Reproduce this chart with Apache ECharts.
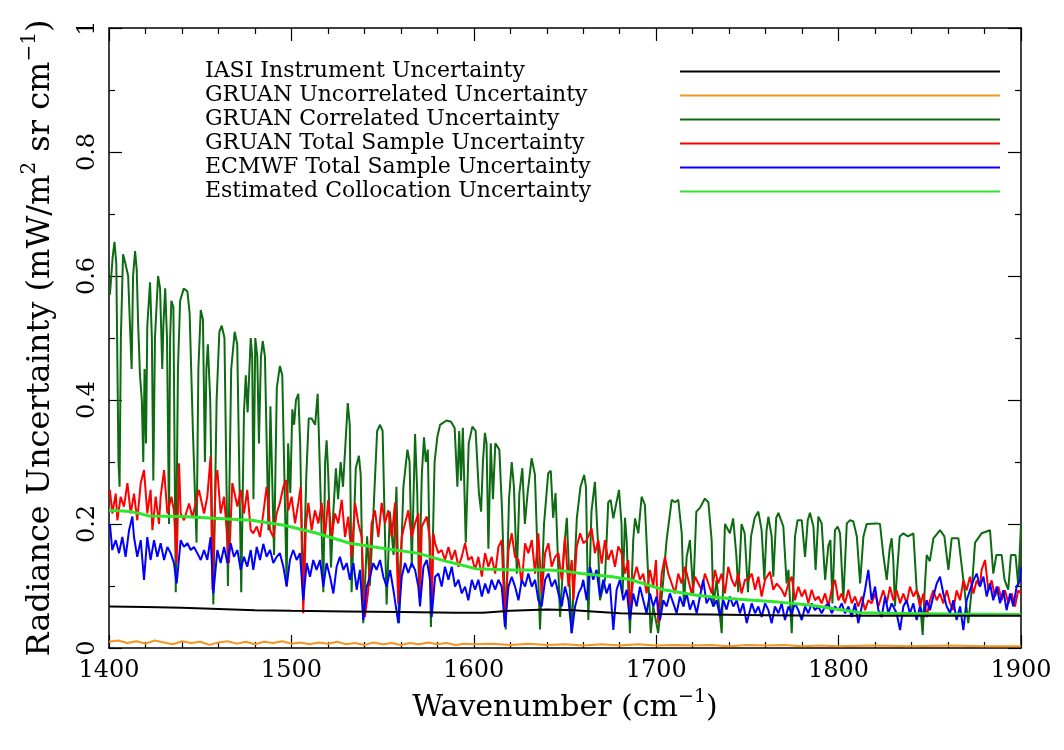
<!DOCTYPE html>
<html>
<head>
<meta charset="utf-8">
<script src="https://cdn.jsdelivr.net/npm/echarts@6/dist/echarts.min.js"></script>
<style>html,body{margin:0;padding:0;background:#fff}#chart{width:1064px;height:750px}</style>
</head>
<body>
<div id="chart"></div>
<script>
// ---- Data (wavenumber cm^-1, radiance uncertainty mW/m2 sr cm-1) ----
const seriesNames = [
  "IASI Instrument Uncertainty",
  "GRUAN Uncorrelated Uncertainty",
  "GRUAN Correlated Uncertainty",
  "GRUAN Total Sample Uncertainty",
  "ECMWF Total Sample Uncertainty",
  "Estimated Collocation Uncertainty"
];
const xTicks = [1400, 1500, 1600, 1700, 1800, 1900];
const yTicks = [0, 0.2, 0.4, 0.6, 0.8, 1];

const iasiInstrument = [[1400,0.067],[1420,0.066],[1440,0.065],[1460,0.063],[1480,0.061],[1500,0.060],[1530,0.059],[1560,0.058],[1590,0.057],[1605,0.057],[1620,0.060],[1640,0.062],[1655,0.061],[1665,0.059],[1680,0.056],[1700,0.055],[1730,0.054],[1760,0.053],[1800,0.052],[1850,0.052],[1900,0.052]];

const gruanUncorrelated = [[1400,0.010],[1405,0.012],[1410,0.008],[1415,0.011],[1420,0.007],[1425,0.012],[1430,0.009],[1435,0.006],[1440,0.011],[1445,0.008],[1450,0.010],[1455,0.005],[1460,0.009],[1465,0.011],[1470,0.007],[1475,0.010],[1480,0.006],[1485,0.010],[1490,0.008],[1495,0.011],[1500,0.007],[1505,0.009],[1510,0.006],[1515,0.009],[1520,0.007],[1525,0.010],[1530,0.006],[1535,0.008],[1540,0.005],[1545,0.009],[1550,0.006],[1555,0.008],[1560,0.005],[1565,0.008],[1570,0.006],[1575,0.009],[1580,0.006],[1585,0.008],[1590,0.005],[1595,0.007],[1600,0.006],[1610,0.007],[1620,0.005],[1630,0.007],[1640,0.005],[1650,0.006],[1660,0.004],[1670,0.006],[1680,0.004],[1690,0.006],[1700,0.004],[1710,0.005],[1720,0.004],[1730,0.005],[1740,0.003],[1750,0.005],[1760,0.004],[1770,0.005],[1780,0.003],[1790,0.004],[1800,0.003],[1820,0.004],[1840,0.003],[1860,0.004],[1880,0.003],[1900,0.003]];

const gruanCorrelated = [[1400.5,0.57],[1402,0.63],[1403,0.655],[1404,0.62],[1405.2,0.30],[1405.8,0.26],[1406.5,0.50],[1407.7,0.635],[1409,0.62],[1410.5,0.60],[1411.5,0.52],[1412.4,0.45],[1413.2,0.60],[1414.3,0.64],[1415.2,0.61],[1416,0.52],[1417,0.44],[1418,0.40],[1418.8,0.30],[1419.5,0.45],[1420.3,0.33],[1421,0.52],[1422.5,0.59],[1423.5,0.50],[1424.3,0.27],[1425.2,0.50],[1426.9,0.60],[1428,0.58],[1429.2,0.45],[1429.8,0.52],[1430.8,0.58],[1431.8,0.50],[1432.9,0.20],[1433.5,0.50],[1434.2,0.56],[1435.3,0.55],[1436.6,0.09],[1437.8,0.45],[1439,0.56],[1441,0.58],[1443,0.575],[1444.2,0.54],[1446,0.35],[1448,0.17],[1449,0.45],[1450.3,0.545],[1451.5,0.53],[1452.6,0.30],[1453.4,0.45],[1454.2,0.49],[1455.5,0.40],[1457.2,0.07],[1459,0.40],[1460.5,0.51],[1461.8,0.52],[1463.3,0.50],[1465.2,0.10],[1467,0.45],[1468.9,0.51],[1470.3,0.49],[1472.5,0.09],[1474,0.38],[1475,0.44],[1476,0.38],[1477.7,0.50],[1478.5,0.47],[1479.2,0.24],[1480.2,0.50],[1481.3,0.47],[1482.2,0.33],[1483.3,0.47],[1484.3,0.495],[1485.5,0.47],[1487.4,0.19],[1488.5,0.39],[1490.5,0.15],[1492,0.42],[1493.7,0.455],[1495,0.44],[1497.4,0.10],[1498.2,0.33],[1499.4,0.25],[1500.5,0.385],[1501.5,0.36],[1502.5,0.40],[1503.8,0.41],[1504.8,0.33],[1506.4,0.08],[1508.2,0.28],[1509.5,0.37],[1511.1,0.37],[1513,0.36],[1514.4,0.41],[1515.5,0.30],[1517.5,0.09],[1518.5,0.30],[1519.3,0.335],[1520.2,0.28],[1521.7,0.13],[1523,0.22],[1524.4,0.29],[1525.6,0.24],[1527,0.30],[1528.3,0.26],[1530.9,0.395],[1532,0.36],[1533,0.09],[1535.3,0.29],[1537,0.31],[1538,0.28],[1539.4,0.04],[1541.5,0.18],[1543,0.10],[1545,0.22],[1547,0.35],[1548.6,0.36],[1550,0.35],[1552.2,0.07],[1554,0.22],[1556,0.15],[1557.6,0.26],[1559,0.04],[1561.4,0.26],[1563.6,0.32],[1564.8,0.30],[1566,0.13],[1567.8,0.345],[1569,0.25],[1570,0.09],[1571.5,0.28],[1572.7,0.34],[1573.7,0.30],[1574.8,0.32],[1576.5,0.034],[1578.5,0.30],[1580,0.34],[1581.5,0.36],[1585,0.367],[1587.5,0.365],[1589.5,0.355],[1591,0.26],[1592,0.35],[1593,0.27],[1594,0.355],[1595.6,0.17],[1597.2,0.33],[1599.2,0.357],[1601,0.35],[1602.8,0.25],[1604,0.22],[1605,0.30],[1606.1,0.347],[1607,0.33],[1608,0.16],[1609.3,0.33],[1610.5,0.24],[1611.8,0.33],[1614,0.32],[1615.5,0.22],[1617.5,0.03],[1619.3,0.24],[1620.8,0.30],[1622,0.26],[1623.6,0.12],[1625,0.25],[1626.6,0.29],[1628,0.20],[1629.5,0.25],[1631.7,0.306],[1633.5,0.28],[1636.3,0.03],[1638.5,0.20],[1640.8,0.282],[1642.2,0.286],[1643.5,0.21],[1644.8,0.25],[1647.3,0.05],[1649.5,0.16],[1651,0.21],[1653.6,0.024],[1656.5,0.21],[1658.5,0.26],[1660.5,0.279],[1661.5,0.26],[1662.8,0.045],[1664.5,0.22],[1666.4,0.268],[1668,0.174],[1669.2,0.077],[1671.9,0.11],[1673.7,0.235],[1675,0.239],[1676.5,0.209],[1677.9,0.23],[1679.6,0.255],[1681,0.20],[1681.6,0.088],[1682.9,0.21],[1683.8,0.174],[1685.6,0.024],[1687.4,0.174],[1688.4,0.209],[1690.2,0.185],[1692,0.244],[1693.8,0.231],[1695.7,0.11],[1697,0.024],[1698.4,0.067],[1701.1,0.024],[1703.9,0.11],[1705.7,0.174],[1708.5,0.239],[1710.3,0.235],[1712.1,0.239],[1714,0.185],[1715.2,0.067],[1716.7,0.147],[1718.5,0.174],[1720.3,0.088],[1722,0.22],[1724,0.226],[1726.7,0.241],[1728.6,0.235],[1730.4,0.174],[1731.3,0.067],[1733.1,0.11],[1735.9,0.024],[1737.7,0.2],[1738.6,0.2],[1740.4,0.185],[1742.2,0.209],[1744,0.147],[1745,0.09],[1746.8,0.2],[1748.5,0.185],[1750.3,0.09],[1752,0.18],[1754,0.21],[1756,0.22],[1757.8,0.19],[1759.3,0.11],[1760.5,0.19],[1761.5,0.212],[1763.3,0.18],[1764.2,0.115],[1765.8,0.21],[1767,0.218],[1769.7,0.196],[1771.5,0.104],[1772.5,0.126],[1774.3,0.024],[1776.1,0.18],[1777.5,0.206],[1779.8,0.206],[1781.6,0.147],[1783.1,0.206],[1784.3,0.218],[1786.2,0.196],[1787.4,0.126],[1788.9,0.212],[1790.7,0.201],[1792.6,0.11],[1794.4,0.165],[1795.5,0.174],[1796.6,0.072],[1798,0.19],[1799.5,0.196],[1800.8,0.185],[1802.6,0.077],[1804.5,0.201],[1806.3,0.206],[1808.1,0.204],[1810,0.18],[1811.8,0.104],[1813.6,0.18],[1815.4,0.20],[1820.9,0.201],[1822.7,0.20],[1824.5,0.15],[1826.4,0.11],[1828,0.16],[1829.1,0.177],[1830,0.14],[1830.9,0.067],[1832,0.12],[1833.5,0.18],[1835.5,0.185],[1838,0.18],[1841,0.185],[1842.8,0.094],[1844.5,0.08],[1846.1,0.021],[1847.3,0.10],[1848.3,0.15],[1850,0.14],[1852,0.177],[1855.6,0.19],[1858,0.18],[1860.2,0.126],[1862,0.177],[1865.7,0.177],[1868.4,0.11],[1871.1,0.04],[1873,0.094],[1874.8,0.17],[1878.4,0.185],[1883,0.19],[1884.8,0.12],[1886.5,0.15],[1889.4,0.15],[1891,0.11],[1893,0.094],[1894.5,0.15],[1897,0.15],[1898.5,0.10],[1900,0.20]];

const gruanTotal = [[1400.5,0.255],[1401.8,0.217],[1403.7,0.249],[1404.6,0.206],[1406.4,0.244],[1408.2,0.228],[1410.1,0.266],[1411.9,0.217],[1413.7,0.249],[1415.5,0.206],[1417.4,0.266],[1419.2,0.287],[1421,0.217],[1422.8,0.255],[1423.8,0.19],[1425.6,0.244],[1427.4,0.2],[1428.3,0.244],[1430.2,0.287],[1432,0.217],[1434.2,0.244],[1435.6,0.222],[1437.1,0.137],[1438.4,0.298],[1439.3,0.217],[1441.1,0.206],[1443.9,0.233],[1445.7,0.211],[1447.5,0.233],[1449.3,0.255],[1452.1,0.217],[1453.9,0.244],[1455.7,0.309],[1456.7,0.094],[1458.5,0.271],[1459.4,0.287],[1461.2,0.217],[1463.1,0.244],[1464.5,0.19],[1465.8,0.137],[1467.6,0.266],[1470.4,0.228],[1472.2,0.255],[1474,0.217],[1475.8,0.255],[1477.7,0.19],[1479.1,0.185],[1481,0.196],[1482.8,0.179],[1484.6,0.217],[1486.4,0.26],[1487.4,0.234],[1488.3,0.19],[1490.1,0.179],[1491.9,0.217],[1493.7,0.234],[1495.6,0.26],[1497,0.271],[1498.3,0.222],[1500.1,0.244],[1502,0.201],[1503.8,0.234],[1505.1,0.26],[1506.5,0.056],[1508,0.201],[1509.3,0.234],[1511.1,0.19],[1512.9,0.222],[1514.8,0.201],[1516.6,0.234],[1518.4,0.179],[1520.2,0.239],[1522.1,0.179],[1523.9,0.217],[1525.7,0.201],[1527.6,0.239],[1529.4,0.179],[1531.2,0.212],[1533,0.147],[1534.9,0.234],[1536.7,0.201],[1538.5,0.179],[1540.3,0.05],[1542.2,0.094],[1544,0.201],[1545.8,0.222],[1547.7,0.179],[1549.5,0.234],[1551.3,0.201],[1553.1,0.222],[1555,0.179],[1556.8,0.234],[1558.6,0.072],[1560.5,0.179],[1562.3,0.201],[1564.1,0.222],[1565.9,0.179],[1567.8,0.201],[1569.6,0.217],[1570.5,0.077],[1571.5,0.196],[1574.2,0.212],[1576,0.174],[1576.9,0.056],[1577.9,0.185],[1578.8,0.169],[1580.6,0.153],[1582.4,0.158],[1584.2,0.142],[1586.1,0.163],[1587.9,0.142],[1589.7,0.158],[1591.6,0.131],[1593.4,0.147],[1595.2,0.169],[1597,0.142],[1598.9,0.147],[1600.7,0.126],[1602.5,0.147],[1604.4,0.115],[1606.2,0.153],[1608,0.131],[1609.8,0.147],[1611.7,0.12],[1613.5,0.163],[1615.3,0.174],[1617.1,0.034],[1619,0.158],[1620.8,0.185],[1622.6,0.147],[1624.5,0.142],[1626.3,0.104],[1628.1,0.169],[1629.9,0.153],[1631.8,0.174],[1633.6,0.12],[1635.4,0.185],[1637.2,0.088],[1639.1,0.153],[1640.9,0.169],[1642.7,0.131],[1644.6,0.147],[1646.4,0.153],[1648.2,0.11],[1650,0.179],[1651.9,0.099],[1653.7,0.142],[1654.6,0.077],[1656.4,0.163],[1658.3,0.185],[1660.1,0.169],[1661.9,0.174],[1664.6,0.193],[1666.4,0.153],[1668.3,0.174],[1670.1,0.136],[1671.9,0.174],[1673.7,0.142],[1675.6,0.158],[1677.4,0.131],[1679.2,0.164],[1681,0.153],[1682.9,0.12],[1684.7,0.142],[1685.6,0.067],[1687.4,0.11],[1689.3,0.131],[1691.1,0.11],[1692.9,0.12],[1694.7,0.088],[1696.6,0.126],[1698.4,0.099],[1699.9,0.142],[1701.1,0.04],[1703,0.12],[1704.8,0.147],[1706.6,0.12],[1708.5,0.104],[1710.3,0.088],[1712.1,0.12],[1713.9,0.104],[1715.8,0.131],[1717.6,0.11],[1719.4,0.088],[1721.3,0.115],[1723.1,0.104],[1724.9,0.094],[1726.7,0.12],[1728.6,0.104],[1730.4,0.088],[1732.2,0.126],[1734,0.104],[1735.9,0.12],[1737.7,0.088],[1739.5,0.131],[1741.4,0.11],[1743.2,0.099],[1745,0.12],[1746.8,0.088],[1748.7,0.11],[1750.5,0.11],[1752.4,0.12],[1754.2,0.094],[1756,0.115],[1757.8,0.083],[1759.7,0.11],[1762.4,0.123],[1764.2,0.094],[1766.1,0.104],[1768.8,0.094],[1770.6,0.083],[1772.5,0.104],[1774.3,0.115],[1776.1,0.077],[1777.9,0.099],[1779.8,0.083],[1781.6,0.094],[1783.4,0.072],[1785.2,0.094],[1787.1,0.077],[1788.9,0.083],[1790.7,0.072],[1792.6,0.088],[1794.4,0.067],[1796.2,0.094],[1798,0.11],[1799.9,0.077],[1801.7,0.088],[1803.5,0.072],[1805.4,0.094],[1807.2,0.072],[1809,0.083],[1810.8,0.067],[1812.7,0.083],[1814.5,0.061],[1816.3,0.077],[1818.1,0.072],[1820,0.088],[1821.8,0.067],[1824.5,0.093],[1826.4,0.072],[1828.2,0.099],[1830,0.077],[1831.8,0.093],[1833.7,0.072],[1835.5,0.088],[1837.3,0.072],[1839.1,0.099],[1841,0.083],[1842.8,0.093],[1844.6,0.067],[1846.5,0.088],[1848.3,0.05],[1850.1,0.077],[1851.9,0.093],[1853.8,0.077],[1855.6,0.088],[1857.4,0.072],[1859.3,0.093],[1861.1,0.072],[1862.9,0.061],[1864.7,0.093],[1866.6,0.077],[1868.4,0.109],[1870.2,0.093],[1872,0.115],[1873.9,0.088],[1875.7,0.109],[1877.5,0.099],[1878.4,0.126],[1880.3,0.142],[1882.1,0.093],[1883.9,0.109],[1885.7,0.083],[1887.6,0.099],[1889.4,0.077],[1891.2,0.093],[1893.1,0.072],[1894.9,0.088],[1896.7,0.067],[1898.5,0.093],[1900,0.088]];

const ecmwfTotal = [[1400.5,0.2],[1401.8,0.158],[1403.7,0.174],[1405.5,0.153],[1407.3,0.179],[1409.1,0.147],[1411,0.19],[1412.8,0.212],[1413.7,0.179],[1415.5,0.147],[1417.4,0.174],[1419.2,0.11],[1421,0.179],[1422.8,0.142],[1424.7,0.174],[1426.5,0.147],[1428.3,0.169],[1430.2,0.142],[1432,0.163],[1433.8,0.153],[1435.6,0.137],[1437.1,0.104],[1439.3,0.174],[1441.1,0.163],[1443,0.169],[1444.8,0.158],[1446.6,0.163],[1448.4,0.153],[1450.3,0.142],[1452.1,0.158],[1453.9,0.142],[1455.7,0.179],[1457.2,0.088],[1459.4,0.158],[1461.2,0.137],[1463.1,0.163],[1464.9,0.137],[1466.7,0.169],[1468.5,0.147],[1470.4,0.158],[1472.2,0.126],[1474,0.147],[1475.8,0.131],[1477.7,0.158],[1479.1,0.126],[1481,0.163],[1482.8,0.142],[1484.6,0.168],[1486.4,0.147],[1488.3,0.158],[1490.1,0.137],[1491.9,0.147],[1493.7,0.153],[1495.6,0.131],[1497.4,0.099],[1499.2,0.142],[1501,0.158],[1502.9,0.142],[1504.7,0.153],[1506.5,0.077],[1508.4,0.137],[1510.2,0.115],[1512,0.142],[1513.8,0.126],[1515.7,0.142],[1517.5,0.099],[1519.3,0.137],[1521.2,0.115],[1523,0.088],[1524.8,0.131],[1526.6,0.147],[1528.5,0.126],[1530.3,0.137],[1532.1,0.11],[1534,0.137],[1535.8,0.094],[1537.6,0.126],[1539.4,0.045],[1541.3,0.099],[1543.1,0.115],[1544.9,0.137],[1546.7,0.126],[1548.6,0.142],[1550.4,0.115],[1552.2,0.099],[1554.1,0.126],[1555.9,0.094],[1558.6,0.04],[1560.5,0.115],[1562.3,0.137],[1564.1,0.121],[1565.9,0.137],[1567.8,0.126],[1569.6,0.099],[1570.5,0.067],[1572.4,0.131],[1574.2,0.142],[1576,0.11],[1576.9,0.05],[1578.8,0.115],[1580.6,0.12],[1582.4,0.099],[1584.2,0.131],[1586.1,0.11],[1587.9,0.131],[1589.7,0.099],[1591.6,0.11],[1593.4,0.088],[1595.2,0.099],[1597,0.077],[1598.9,0.11],[1600.7,0.094],[1602.5,0.11],[1604.4,0.083],[1606.2,0.104],[1608,0.088],[1609.8,0.11],[1611.7,0.094],[1613.5,0.11],[1615.3,0.099],[1617.1,0.034],[1619,0.099],[1620.8,0.115],[1622.6,0.099],[1624.5,0.077],[1626.3,0.11],[1628.1,0.099],[1629.9,0.12],[1631.8,0.099],[1633.6,0.11],[1635.4,0.077],[1637.2,0.067],[1639.1,0.11],[1640.9,0.12],[1642.7,0.099],[1644.6,0.11],[1646.4,0.088],[1648.2,0.067],[1650,0.099],[1651.9,0.077],[1653.7,0.024],[1655.5,0.067],[1657.4,0.088],[1659.2,0.099],[1660,0.11],[1661.9,0.077],[1663.7,0.131],[1665.5,0.11],[1667.3,0.126],[1669.2,0.083],[1671,0.11],[1672.8,0.088],[1674.6,0.104],[1676.5,0.029],[1678.3,0.094],[1680.1,0.11],[1682,0.077],[1683.8,0.094],[1685.6,0.045],[1687.4,0.088],[1689.3,0.067],[1691.1,0.099],[1692.9,0.077],[1694.7,0.056],[1696.6,0.088],[1698.4,0.067],[1700.2,0.083],[1702.1,0.045],[1703.9,0.077],[1705.7,0.067],[1707.5,0.088],[1709.4,0.072],[1711.2,0.056],[1713,0.083],[1714.9,0.067],[1716.7,0.088],[1718.5,0.062],[1720.3,0.077],[1722.2,0.056],[1724,0.083],[1725.8,0.11],[1727.6,0.072],[1729.5,0.083],[1731.3,0.067],[1733.1,0.077],[1735,0.051],[1736.8,0.077],[1738.6,0.062],[1740.4,0.083],[1742.3,0.067],[1744.1,0.077],[1745.9,0.056],[1747.7,0.072],[1749.6,0.04],[1750.5,0.04],[1752.4,0.072],[1754.2,0.056],[1756,0.067],[1757.8,0.05],[1759.7,0.072],[1761.5,0.061],[1763.3,0.04],[1765.1,0.067],[1767,0.056],[1768.8,0.072],[1770.6,0.045],[1772.5,0.067],[1774.3,0.056],[1776.1,0.072],[1777.9,0.061],[1779.8,0.045],[1781.6,0.067],[1783.4,0.056],[1785.2,0.072],[1787.1,0.061],[1788.9,0.067],[1790.7,0.056],[1792.6,0.067],[1794.4,0.072],[1796.2,0.056],[1798,0.067],[1799.9,0.061],[1801.7,0.072],[1803.5,0.056],[1805.4,0.067],[1807.2,0.05],[1809,0.072],[1810.8,0.04],[1812.7,0.067],[1814.5,0.094],[1816.3,0.126],[1818.1,0.077],[1820,0.099],[1821.8,0.061],[1823.6,0.05],[1825.5,0.083],[1827.3,0.056],[1829.1,0.072],[1831.8,0.056],[1833.7,0.029],[1835.5,0.067],[1837.3,0.077],[1839.1,0.056],[1841,0.072],[1842.8,0.045],[1844.6,0.067],[1846.5,0.05],[1848.3,0.077],[1850.1,0.061],[1851.9,0.083],[1853.8,0.104],[1855.6,0.115],[1857.4,0.088],[1859.3,0.067],[1861.1,0.056],[1862.9,0.077],[1864.7,0.045],[1866.6,0.067],[1868.4,0.029],[1870.2,0.077],[1872,0.093],[1873.9,0.109],[1875.7,0.12],[1877.5,0.099],[1879.4,0.115],[1881.2,0.083],[1883,0.104],[1884.8,0.077],[1886.7,0.099],[1888.5,0.072],[1890.3,0.093],[1892.1,0.061],[1894,0.088],[1895.8,0.067],[1897.6,0.099],[1899.4,0.109],[1900,0.13]];

const collocation = [[1400,0.222],[1412,0.220],[1418,0.216],[1422,0.213],[1440,0.212],[1460,0.209],[1478,0.206],[1496,0.198],[1514,0.185],[1532,0.169],[1550,0.161],[1569,0.153],[1586,0.139],[1601,0.128],[1622,0.126],[1641,0.126],[1650,0.124],[1659,0.120],[1676,0.115],[1686,0.110],[1704,0.094],[1722,0.085],[1735,0.081],[1749,0.078],[1767,0.074],[1785,0.069],[1803,0.061],[1812,0.057],[1829,0.056],[1860,0.055],[1900,0.054]];

const colors = ["#000000", "#f7941d", "#0d6b12", "#ff0000", "#0000ff", "#2ee62e"];
const lineWidths = [2, 2, 2, 2, 2, 3];
const seriesData = [iasiInstrument, gruanUncorrelated, gruanCorrelated, gruanTotal, ecmwfTotal, collocation];
const zOrder = [6, 7, 2, 3, 4, 5];

const FONT = "DejaVu Serif";
const chart = echarts.init(document.getElementById('chart'), null, {renderer: 'canvas'});

const axisCommon = {
  axisLine: {show: true, onZero: false, lineStyle: {color: '#000', width: 1.5}},
  axisTick: {show: true, inside: true, length: 13, lineStyle: {color: '#000', width: 1.2}},
  minorTick: {show: true, length: 6, lineStyle: {color: '#000', width: 1.2}},
  splitLine: {show: false}
};

const xBase = Object.assign({}, axisCommon, {
  type: 'value', min: xTicks[0], max: xTicks[xTicks.length - 1], interval: xTicks[1] - xTicks[0]
});
xBase.minorTick = Object.assign({}, axisCommon.minorTick, {splitNumber: 5});
const yBase = Object.assign({}, axisCommon, {
  type: 'value', min: yTicks[0], max: yTicks[yTicks.length - 1], interval: yTicks[1] - yTicks[0]
});
yBase.minorTick = Object.assign({}, axisCommon.minorTick, {splitNumber: 2});

const supStyleX = {fontFamily: FONT, fontSize: 19, verticalAlign: 'top', lineHeight: 19, color: '#000'};
const supStyleY = {fontFamily: FONT, fontSize: 20, verticalAlign: 'top', lineHeight: 20, color: '#000'};

const option = {
  animation: false,
  backgroundColor: '#fff',
  grid: {left: 109, right: 43, top: 28, bottom: 102, containLabel: false},
  legend: {
    orient: 'vertical', left: 200, top: 55, align: 'right',
    itemWidth: 320, itemHeight: 2, itemGap: 1, icon: 'rect',
    data: seriesNames,
    formatter: name => '{t|' + name + '}',
    textStyle: {fontFamily: FONT, fontSize: 22, color: '#000', lineHeight: 23,
      rich: {t: {fontFamily: FONT, fontSize: 22, color: '#000', width: 470, align: 'left', lineHeight: 23}}},
    selectedMode: false
  },
  xAxis: [
    Object.assign({}, xBase, {
      position: 'bottom',
      axisLabel: {show: true, margin: 11, fontFamily: FONT, fontSize: 24, color: '#000', formatter: v => String(v)},
      name: 'Wavenumber (cm{sup|−1})', nameLocation: 'middle', nameGap: 57,
      nameTextStyle: {fontFamily: FONT, fontSize: 30, color: '#000', lineHeight: 40, verticalAlign: 'middle', rich: {sup: supStyleX}}
    }),
    Object.assign({}, xBase, {position: 'top', axisLabel: {show: false}})
  ],
  yAxis: [
    Object.assign({}, yBase, {
      position: 'left',
      axisLabel: {show: true, rotate: 90, margin: 9, fontFamily: FONT, fontSize: 24, color: '#000', formatter: v => String(v)},
      name: 'Radiance Uncertainty (mW/m{sup|2} sr cm{sup|−1})', nameLocation: 'middle', nameRotate: 90, nameGap: 68,
      nameTextStyle: {fontFamily: FONT, fontSize: 32, color: '#000', lineHeight: 42, verticalAlign: 'middle', rich: {sup: supStyleY}}
    }),
    Object.assign({}, yBase, {position: 'right', axisLabel: {show: false}})
  ],
  series: seriesNames.map((name, i) => ({
    name: name, type: 'line', data: seriesData[i],
    xAxisIndex: 0, yAxisIndex: 0,
    symbol: 'none', showSymbol: false, smooth: false, sampling: false,
    z: zOrder[i],
    color: colors[i],
    lineStyle: {color: colors[i], width: lineWidths[i]},
    itemStyle: {color: colors[i]},
    emphasis: {disabled: true}
  }))
};
chart.setOption(option);
</script>
</body>
</html>
